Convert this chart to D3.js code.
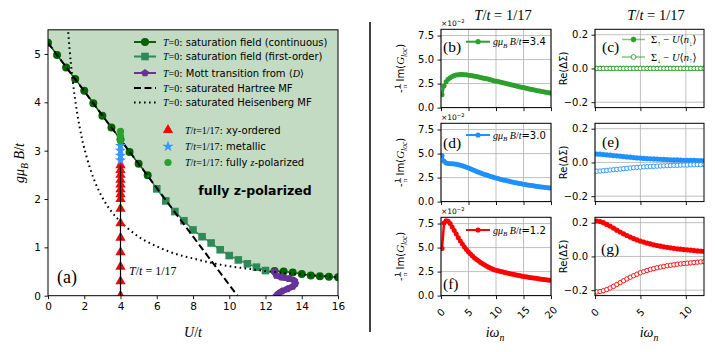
<!DOCTYPE html>
<html>
<head>
<meta charset="utf-8">
<script src="https://cdn.jsdelivr.net/npm/d3@7"></script>
<style>
  body { margin: 0; background: #fff; }
  svg { display: block; }
</style>
</head>
<body>
<svg id="chart" width="715" height="352"></svg>
<script>
const SANS = '"DejaVu Sans", sans-serif';
const SERIF = '"Liberation Serif", "DejaVu Serif", serif';

// ---- panel (a): phase diagram ----
const contU = [0, 0.5, 1, 1.5, 2, 2.5, 3, 3.5, 4, 4.5, 5, 5.5];
const contB = [5.23, 4.98, 4.72, 4.48, 4.24, 3.98, 3.72, 3.48, 3.23, 2.97, 2.73, 2.49];
const firstU = [6, 6.5, 7, 7.5, 8, 8.5, 9, 9.5, 10, 10.5, 11, 11.5, 12];
const firstB = [2.21, 1.96, 1.74, 1.55, 1.36, 1.22, 1.09, 0.95, 0.83, 0.74, 0.66, 0.59, 0.52];
const contHiU = [12.5, 13, 13.5, 14, 14.5, 15, 15.5, 16];
const contHiB = [0.51, 0.5, 0.48, 0.45, 0.42, 0.4, 0.39, 0.38];
const mottU = [12.5, 12.6, 12.9, 13.3, 13.6, 13.65, 13.5, 13.2, 12.9, 12.7, 12.6];
const mottB = [0.5, 0.42, 0.38, 0.35, 0.31, 0.25, 0.19, 0.14, 0.09, 0.04, 0.0];
const hartreeU = [0, 10.45];
const hartreeB = [5.23, 0];
const heisU = [1.1, 1.25, 1.5, 1.75, 2, 2.5, 3, 3.5, 4, 5, 6, 7, 8, 9, 10, 11, 12, 13, 14, 15, 16];
const heisB = [5.55, 4.85, 4.05, 3.48, 3.05, 2.44, 2.03, 1.74, 1.53, 1.22, 1.02, 0.87, 0.77, 0.68, 0.61, 0.56, 0.51, 0.47, 0.44, 0.41, 0.38];
const xyB = [0, 0.3, 0.6, 0.9, 1.2, 1.5, 1.8, 2.0, 2.1, 2.2, 2.3, 2.4, 2.5, 2.6, 2.7];
const metalB = [2.8, 2.9, 3.0, 3.1];
const polB = [3.2, 3.3, 3.4];
const tempU = 4;
const uTicks = [0, 2, 4, 6, 8, 10, 12, 14, 16];
const bTicks = [0, 1, 2, 3, 4, 5];

// ---- panels (b)-(g): Matsubara data ----
const wn = [0.185, 0.554, 0.924, 1.294, 1.663, 2.033, 2.402, 2.772, 3.142, 3.511,
  3.881, 4.25, 4.62, 4.99, 5.359, 5.729, 6.098, 6.468, 6.837, 7.207,
  7.577, 7.946, 8.316, 8.685, 9.055, 9.425, 9.794, 10.164, 10.533, 10.903,
  11.272, 11.642, 12.012, 12.381, 12.751, 13.12, 13.49, 13.859, 14.229, 14.599,
  14.968, 15.338, 15.707, 16.077, 16.446, 16.816, 17.185, 17.555, 17.925, 18.294,
  18.664, 19.033, 19.403, 19.772];
const gB34 = [1.35, 2.25, 2.7, 2.95, 3.12, 3.24, 3.33, 3.39, 3.42, 3.44,
  3.44, 3.43, 3.41, 3.38, 3.35, 3.31, 3.27, 3.23, 3.18, 3.14,
  3.09, 3.04, 2.99, 2.94, 2.89, 2.83, 2.78, 2.73, 2.68, 2.63,
  2.58, 2.53, 2.48, 2.43, 2.38, 2.33, 2.28, 2.23, 2.18, 2.13,
  2.08, 2.03, 1.99, 1.94, 1.89, 1.85, 1.8, 1.76, 1.72, 1.68,
  1.64, 1.6, 1.56, 1.52];
const gB30 = [4.8, 4.2, 4.02, 3.97, 3.95, 3.93, 3.91, 3.88, 3.84, 3.79,
  3.73, 3.66, 3.58, 3.5, 3.41, 3.32, 3.23, 3.14, 3.06, 2.98,
  2.9, 2.83, 2.76, 2.69, 2.62, 2.55, 2.49, 2.43, 2.37, 2.31,
  2.26, 2.21, 2.16, 2.11, 2.06, 2.02, 1.97, 1.93, 1.89, 1.85,
  1.81, 1.78, 1.74, 1.71, 1.67, 1.64, 1.61, 1.58, 1.55, 1.52,
  1.49, 1.46, 1.44, 1.41];
const gB12 = [4.9, 7.55, 7.8, 7.75, 7.5, 7.15, 6.78, 6.4, 6.03, 5.68,
  5.36, 5.06, 4.79, 4.54, 4.32, 4.11, 3.92, 3.75, 3.59, 3.44,
  3.31, 3.18, 3.06, 2.95, 2.85, 2.75, 2.67, 2.62, 2.56, 2.5,
  2.45, 2.4, 2.35, 2.3, 2.25, 2.21, 2.16, 2.12, 2.08, 2.04,
  2.0, 1.96, 1.93, 1.89, 1.86, 1.83, 1.8, 1.77, 1.74, 1.71,
  1.68, 1.65, 1.62, 1.6];

const wnS = wn.slice(0, 33);
const sigUp34 = [0, 0, 0, 0, 0, 0, 0, 0, 0, 0, 0, 0, 0, 0, 0, 0, 0, 0, 0, 0, 0, 0, 0, 0, 0, 0, 0, 0, 0, 0, 0, 0, 0];
const sigDn34 = [0, 0, 0, 0, 0, 0, 0, 0, 0, 0, 0, 0, 0, 0, 0, 0, 0, 0, 0, 0, 0, 0, 0, 0, 0, 0, 0, 0, 0, 0, 0, 0, 0];
const sigUp30 = [0.05, 0.049, 0.047, 0.045, 0.043, 0.041, 0.039, 0.037, 0.035, 0.033,
  0.031, 0.029, 0.027, 0.026, 0.024, 0.023, 0.022, 0.021, 0.02, 0.019,
  0.018, 0.017, 0.016, 0.015, 0.015, 0.014, 0.013, 0.013, 0.012, 0.012,
  0.011, 0.011, 0.01];
const sigDn30 = [-0.052, -0.051, -0.049, -0.047, -0.045, -0.043, -0.041, -0.039, -0.037, -0.035,
  -0.033, -0.031, -0.029, -0.028, -0.026, -0.025, -0.024, -0.023, -0.022, -0.021,
  -0.02, -0.019, -0.018, -0.017, -0.017, -0.016, -0.015, -0.015, -0.014, -0.014,
  -0.013, -0.013, -0.012];
const sigUp12 = [0.21, 0.207, 0.2, 0.19, 0.18, 0.168, 0.156, 0.145, 0.134, 0.124,
  0.115, 0.106, 0.098, 0.091, 0.085, 0.079, 0.074, 0.069, 0.065, 0.061,
  0.057, 0.054, 0.051, 0.048, 0.045, 0.043, 0.041, 0.039, 0.037, 0.035,
  0.033, 0.032, 0.03];
const sigDn12 = [-0.21, -0.208, -0.203, -0.196, -0.187, -0.177, -0.166, -0.155, -0.144, -0.133,
  -0.123, -0.114, -0.105, -0.097, -0.09, -0.083, -0.077, -0.072, -0.067, -0.063,
  -0.059, -0.055, -0.052, -0.049, -0.046, -0.044, -0.042, -0.04, -0.038, -0.036,
  -0.034, -0.032, -0.031];
const gTicksX = [0, 5, 10, 15, 20];
const gTicksY = [0, 2.5, 5, 7.5];
const sTicksX = [0, 5, 10];
const sTicksY = [-0.2, 0, 0.2];

const C = {
  dark: '#006400', sea: '#2e8b57', purple: '#663399', fill: '#c2dbc2',
  green: '#2ca02c', blue: '#1e90ff', red: '#ff0000', star: '#3399ff', grid: '#b0b0b0'
};

const svg = d3.select('#chart');
svg.append('rect').attr('width', 715).attr('height', 352).attr('fill', '#fff');

// rich text: parts are [string, code]; I italic serif, R roman serif, S sans, _ sub, ^ sup, B bold
function rich(parent, x, y, parts, size, anchor) {
  const t = parent.append('text').attr('x', x).attr('y', y)
    .attr('font-size', size).attr('text-anchor', anchor || 'start');
  let shift = 0;
  parts.forEach(([s, code]) => {
    const sp = t.append('tspan').text(s);
    const target = code.includes('_') ? 0.25 : code.includes('^') ? -0.4 : 0;
    sp.attr('dy', (target - shift) * size);
    shift = target;
    if (target !== 0) sp.attr('font-size', size * 0.7);
    if (code.includes('I')) sp.attr('font-family', SERIF).attr('font-style', 'italic');
    else if (code.includes('R')) sp.attr('font-family', SERIF);
    else sp.attr('font-family', SANS);
    if (code.includes('B')) sp.attr('font-weight', 'bold');
  });
  return t;
}

function pentagon(r) {
  const pts = d3.range(5).map(i => {
    const a = -Math.PI / 2 + i * 2 * Math.PI / 5;
    return [r * Math.cos(a), r * Math.sin(a)];
  });
  return 'M' + pts.join('L') + 'Z';
}

// ================= panel (a) =================
const xU = d3.scaleLinear().domain([0, 16]).range([48, 338]);
const yB = d3.scaleLinear().domain([0, 5.5]).range([295.7, 29.8]);

svg.append('clipPath').attr('id', 'clipA').append('rect')
  .attr('x', 48).attr('y', 29.8).attr('width', 290).attr('height', 265.9);
const gA = svg.append('g').attr('clip-path', 'url(#clipA)');

const boundary = [[0, 5.5]]
  .concat(contU.map((u, i) => [u, contB[i]]))
  .concat(firstU.map((u, i) => [u, firstB[i]]))
  .concat(contHiU.map((u, i) => [u, contHiB[i]]))
  .concat([[16, 5.5]]);
gA.append('path')
  .attr('d', d3.line().x(d => xU(d[0])).y(d => yB(d[1]))(boundary) + 'Z')
  .attr('fill', C.fill);

const lineUB = d3.line().x(d => xU(d[0])).y(d => yB(d[1]));
const zipUB = (us, bs) => us.map((u, i) => [u, bs[i]]);

// saturation field (continuous), low and high U parts
[zipUB(contU, contB), zipUB(contHiU, contHiB)].forEach(pts => {
  gA.append('path').attr('d', lineUB(pts)).attr('fill', 'none')
    .attr('stroke', C.dark).attr('stroke-width', 1.5);
  gA.selectAll(null).data(pts).join('circle')
    .attr('cx', d => xU(d[0])).attr('cy', d => yB(d[1])).attr('r', 4).attr('fill', C.dark);
});
// first-order
const firstPts = [[contU[contU.length - 1], contB[contB.length - 1]]].concat(zipUB(firstU, firstB));
gA.append('path').attr('d', lineUB(firstPts)).attr('fill', 'none')
  .attr('stroke', C.sea).attr('stroke-width', 1.5);
gA.selectAll(null).data(zipUB(firstU, firstB)).join('rect')
  .attr('x', d => xU(d[0]) - 3.8).attr('y', d => yB(d[1]) - 3.8)
  .attr('width', 7.6).attr('height', 7.6).attr('fill', C.sea);
// Mott transition
const mottPts = zipUB(mottU, mottB);
gA.append('path').attr('d', d3.line().curve(d3.curveCatmullRom)
    .x(d => xU(d[0])).y(d => yB(d[1]))(mottPts)).attr('fill', 'none')
  .attr('stroke', C.purple).attr('stroke-width', 6).attr('stroke-linejoin', 'round');
gA.selectAll(null).data(mottPts).join('path')
  .attr('transform', d => `translate(${xU(d[0])},${yB(d[1])})`)
  .attr('d', pentagon(4)).attr('fill', C.purple);

// Hartree and Heisenberg MF
gA.append('path').attr('d', lineUB(zipUB(hartreeU, hartreeB))).attr('fill', 'none')
  .attr('stroke', '#000').attr('stroke-width', 2).attr('stroke-dasharray', '7,3.5');
gA.append('path').attr('d', d3.line().curve(d3.curveCatmullRom)
    .x(d => xU(d[0])).y(d => yB(d[1]))(zipUB(heisU, heisB)))
  .attr('fill', 'none').attr('stroke', '#000').attr('stroke-width', 2)
  .attr('stroke-dasharray', '1.6,3.4');

// T/t = 1/17 cut
gA.selectAll(null).data(xyB).join('path')
  .attr('transform', d => `translate(${xU(tempU)},${yB(d)})`)
  .attr('d', d3.symbol(d3.symbolTriangle, 46)()).attr('fill', C.red);
gA.selectAll(null).data(metalB).join('path')
  .attr('transform', d => `translate(${xU(tempU)},${yB(d)})`)
  .attr('d', d3.symbol(d3.symbolStar, 40)()).attr('fill', C.star);
gA.selectAll(null).data(polB).join('circle')
  .attr('cx', xU(tempU)).attr('cy', d => yB(d)).attr('r', 3.6).attr('fill', C.green);
gA.append('line').attr('x1', xU(tempU)).attr('x2', xU(tempU))
  .attr('y1', yB(0)).attr('y2', yB(xyB[xyB.length - 1]))
  .attr('stroke', '#000').attr('stroke-width', 1.2);

// frame and axes
svg.append('rect').attr('x', 48).attr('y', 29.8).attr('width', 290).attr('height', 265.9)
  .attr('fill', 'none').attr('stroke', '#000').attr('stroke-width', 1);

function styleAxis(g, size) {
  g.select('.domain').remove();
  g.selectAll('.tick line').attr('stroke', '#000').attr('stroke-width', 0.9);
  g.selectAll('.tick text').attr('font-family', SANS).attr('font-size', size).attr('fill', '#000');
}
svg.append('g').attr('transform', 'translate(0,295.7)')
  .call(d3.axisBottom(xU).tickValues(uTicks).tickFormat(d3.format('d')).tickSize(3.5).tickPadding(3))
  .call(g => styleAxis(g, 10.5));
svg.append('g').attr('transform', 'translate(48,0)')
  .call(d3.axisLeft(yB).tickValues(bTicks).tickFormat(d3.format('d')).tickSize(3.5).tickPadding(3.5))
  .call(g => styleAxis(g, 10.5));

rich(svg, 193, 337, [['U', 'I'], ['/', 'R'], ['t', 'I']], 14, 'middle');
rich(svg.append('g').attr('transform', 'translate(24,163) rotate(-90)'), 0, 0,
  [['gμ', 'I'], ['B', 'I_'], [' B', 'I'], ['/', 'R'], ['t', 'I']], 14, 'middle');

rich(svg, 255, 195, [['fully z-polarized', 'SB']], 12.5, 'middle');
rich(svg, 57, 283, [['(a)', 'R']], 18, 'start');
rich(svg, 129, 275, [['T', 'I'], ['/', 'R'], ['t', 'I'], [' = 1/17', 'R']], 12, 'start');

// legend
const legLines = [
  { y: 42, color: C.dark, mk: 'circle', dash: null, label: ': saturation field (continuous)' },
  { y: 56.5, color: C.sea, mk: 'square', dash: null, label: ': saturation field (first-order)' },
  { y: 73, color: C.purple, mk: 'pentagon', dash: null, label: ': Mott transition from ', extra: true },
  { y: 88, color: '#000', mk: null, dash: '7,3.5', label: ': saturated Hartree MF' },
  { y: 102.5, color: '#000', mk: null, dash: '1.6,3.4', label: ': saturated Heisenberg MF' }
];
legLines.forEach(d => {
  svg.append('line').attr('x1', 134).attr('x2', 156).attr('y1', d.y).attr('y2', d.y)
    .attr('stroke', d.color).attr('stroke-width', 2).attr('stroke-dasharray', d.dash);
  if (d.mk === 'circle') svg.append('circle').attr('cx', 145).attr('cy', d.y).attr('r', 4).attr('fill', d.color);
  if (d.mk === 'square') svg.append('rect').attr('x', 141.2).attr('y', d.y - 3.8).attr('width', 7.6).attr('height', 7.6).attr('fill', d.color);
  if (d.mk === 'pentagon') svg.append('path').attr('transform', `translate(145,${d.y})`).attr('d', pentagon(4)).attr('fill', d.color);
  const parts = [['T', 'I'], ['=0', 'R'], [d.label, 'S']];
  if (d.extra) parts.push(['⟨', 'R'], ['D', 'I'], ['⟩', 'R']);
  rich(svg, 163, d.y + 3.5, parts, 10, 'start');
});
const legPts = [
  { y: 130, label: ': xy-ordered', sym: 'tri' },
  { y: 146.5, label: ': metallic', sym: 'star' },
  { y: 162.5, label: ': fully ', sym: 'circ', z: true }
];
legPts.forEach(d => {
  if (d.sym === 'tri') svg.append('path').attr('transform', `translate(168,${d.y})`).attr('d', d3.symbol(d3.symbolTriangle, 46)()).attr('fill', C.red);
  if (d.sym === 'star') svg.append('path').attr('transform', `translate(168,${d.y})`).attr('d', d3.symbol(d3.symbolStar, 40)()).attr('fill', C.star);
  if (d.sym === 'circ') svg.append('circle').attr('cx', 168).attr('cy', d.y).attr('r', 3.6).attr('fill', C.green);
  const parts = [['T', 'I'], ['/', 'R'], ['t', 'I'], ['=1/17', 'R'], [d.label, 'S']];
  if (d.z) parts.push(['z', 'I'], ['-polarized', 'S']);
  rich(svg, 185, d.y + 3.5, parts, 10, 'start');
});

// separator
svg.append('line').attr('x1', 370).attr('x2', 370).attr('y1', 22).attr('y2', 332)
  .attr('stroke', '#000').attr('stroke-width', 1.5);

// ================= panels (b)-(g) =================
const H = 78.3;
const tops = [29.3, 123.3, 217.3];
let clipId = 0;

function panel(x0, x1, top, xDom, yDom, xt, yt, showX) {
  const x = d3.scaleLinear().domain(xDom).range([x0, x1]);
  const y = d3.scaleLinear().domain(yDom).range([top + H, top]);
  const id = 'clipP' + (clipId++);
  svg.append('clipPath').attr('id', id).append('rect')
    .attr('x', x0).attr('y', top).attr('width', x1 - x0).attr('height', H);
  const grid = svg.append('g');
  grid.selectAll(null).data(xt).join('line')
    .attr('x1', d => x(d)).attr('x2', d => x(d)).attr('y1', top).attr('y2', top + H)
    .attr('stroke', C.grid).attr('stroke-width', 0.8);
  grid.selectAll(null).data(yt).join('line')
    .attr('x1', x0).attr('x2', x1).attr('y1', d => y(d)).attr('y2', d => y(d))
    .attr('stroke', C.grid).attr('stroke-width', 0.8);
  const g = svg.append('g').attr('clip-path', `url(#${id})`);
  svg.append('rect').attr('x', x0).attr('y', top).attr('width', x1 - x0).attr('height', H)
    .attr('fill', 'none').attr('stroke', '#000').attr('stroke-width', 1);
  svg.append('g').attr('transform', `translate(${x0},0)`)
    .call(d3.axisLeft(y).tickValues(yt).tickFormat(d3.format('.1f')).tickSize(3.5).tickPadding(3.5))
    .call(a => styleAxis(a, 10));
  svg.append('g').attr('transform', `translate(0,${top + H})`)
    .call(d3.axisBottom(x).tickValues(xt).tickSize(3.5).tickFormat(''))
    .call(a => styleAxis(a, 10));
  if (showX) {
    svg.append('g').selectAll(null).data(xt).join('text')
      .attr('transform', d => `translate(${x(d)},${top + H + 17}) rotate(-45)`)
      .attr('text-anchor', 'middle').attr('dy', '0.35em')
      .attr('font-family', SANS).attr('font-size', 10).text(d => d);
  }
  return { x, y, g };
}

function gPanel(top, vals, color, label, tag, tagY, legY, showX) {
  const p = panel(441, 551, top, [0, 20], [0, 8.15], gTicksX, gTicksY, showX);
  const pts = wn.map((w, i) => [w, vals[i]]);
  p.g.append('path').attr('d', d3.line().x(d => p.x(d[0])).y(d => p.y(d[1]))(pts))
    .attr('fill', 'none').attr('stroke', color).attr('stroke-width', 2.5);
  p.g.selectAll(null).data(pts).join('circle')
    .attr('cx', d => p.x(d[0])).attr('cy', d => p.y(d[1])).attr('r', 2.5).attr('fill', color);
  svg.append('line').attr('x1', 466).attr('x2', 490).attr('y1', legY).attr('y2', legY)
    .attr('stroke', color).attr('stroke-width', 2);
  svg.append('circle').attr('cx', 478).attr('cy', legY).attr('r', 2.6).attr('fill', color);
  rich(svg, 493, legY + 3.5, [['gμ', 'I'], ['B', 'I_'], [' B', 'I'], ['/', 'R'], ['t', 'I'], ['=' + label, 'S']], 10, 'start');
  rich(svg, 443, tagY, [[tag, 'R']], 15.5, 'start');
  rich(svg, 441, top - 3, [['×10', 'S'], ['−2', 'S^']], 7.5, 'start');
  // y label
  const gl = svg.append('g').attr('transform', `translate(404,${top + H / 2}) rotate(-90)`);
  const inner = gl.append('g');
  let cx = 0;
  const put = (s, fam, style, size, dy) => {
    const t = inner.append('text').attr('x', cx).attr('y', dy).attr('font-family', fam)
      .attr('font-style', style).attr('font-size', size).text(s);
    cx += t.node().getComputedTextLength();
  };
  put('-', SANS, 'normal', 10, 0);
  inner.append('text').attr('x', cx + 3).attr('y', -4.5).attr('text-anchor', 'middle')
    .attr('font-family', SANS).attr('font-size', 7).text('1');
  inner.append('line').attr('x1', cx + 0.5).attr('x2', cx + 5.5).attr('y1', -3.3).attr('y2', -3.3)
    .attr('stroke', '#000').attr('stroke-width', 0.6);
  inner.append('text').attr('x', cx + 3).attr('y', 3).attr('text-anchor', 'middle')
    .attr('font-family', SERIF).attr('font-size', 7).text('π');
  cx += 8;
  put('Im(', SANS, 'normal', 10, 0);
  put('G', SERIF, 'italic', 11, 0);
  put('loc', SERIF, 'italic', 7.5, 2.5);
  put(')', SANS, 'normal', 10, 0);
  inner.attr('transform', `translate(${-cx / 2},0)`);
}

function sPanel(top, up, dn, color, tag, tagX, tagY, showX, legend) {
  const p = panel(595, 704, top, [0, 12], [-0.232, 0.232], sTicksX, sTicksY, showX);
  const line = d3.line().x(d => p.x(d[0])).y(d => p.y(d[1]));
  const upPts = wnS.map((w, i) => [w, up[i]]);
  const dnPts = wnS.map((w, i) => [w, dn[i]]);
  p.g.append('path').attr('d', line(upPts)).attr('fill', 'none').attr('stroke', color).attr('stroke-width', 1.2);
  p.g.selectAll(null).data(upPts).join('circle')
    .attr('cx', d => p.x(d[0])).attr('cy', d => p.y(d[1])).attr('r', 2.6).attr('fill', color);
  p.g.append('path').attr('d', line(dnPts)).attr('fill', 'none').attr('stroke', color).attr('stroke-width', 1.2);
  p.g.selectAll(null).data(dnPts).join('circle')
    .attr('cx', d => p.x(d[0])).attr('cy', d => p.y(d[1])).attr('r', 2.2)
    .attr('fill', '#fff').attr('stroke', color).attr('stroke-width', 0.9);
  rich(svg, tagX, tagY, [[tag, 'R']], 15.5, 'start');
  rich(svg.append('g').attr('transform', `translate(567,${top + H / 2}) rotate(-90)`), 0, 0,
    [['Re(ΔΣ)', 'S']], 10, 'middle');
  if (legend) {
    [[39.5, true, '↑', '↓'], [57, false, '↓', '↑']].forEach(([ly, filled, s1, s2]) => {
      svg.append('line').attr('x1', 622).attr('x2', 645).attr('y1', ly).attr('y2', ly)
        .attr('stroke', color).attr('stroke-opacity', 0.6).attr('stroke-width', 1.5);
      svg.append('circle').attr('cx', 633.5).attr('cy', ly).attr('r', 2.4)
        .attr('fill', filled ? color : '#fff').attr('stroke', color).attr('stroke-width', 0.9);
      rich(svg, 651, ly + 3.5, [['Σ', 'R'], [s1, 'R_'], [' − ', 'R'], ['U', 'I'], ['⟨', 'R'], ['n', 'I'], [s2, 'R_'], ['⟩', 'R']], 10.5, 'start');
    });
  }
}

gPanel(tops[0], gB34, C.green, '3.4', '(b)', 52, 41.7, false);
gPanel(tops[1], gB30, C.blue, '3.0', '(d)', 148, 135, false);
gPanel(tops[2], gB12, C.red, '1.2', '(f)', 289, 230, true);
sPanel(tops[0], sigUp34, sigDn34, C.green, '(c)', 602, 52, false, true);
sPanel(tops[1], sigUp30, sigDn30, C.blue, '(e)', 602, 147, false, false);
sPanel(tops[2], sigUp12, sigDn12, C.red, '(g)', 601, 254, true, false);

// titles and x labels
rich(svg, 503, 20, [['T', 'I'], ['/', 'R'], ['t', 'I'], [' = 1/17', 'R']], 14.5, 'middle');
rich(svg, 656, 20, [['T', 'I'], ['/', 'R'], ['t', 'I'], [' = 1/17', 'R']], 14.5, 'middle');
rich(svg, 495, 337, [['iω', 'I'], ['n', 'I_']], 14, 'middle');
rich(svg, 649, 337, [['iω', 'I'], ['n', 'I_']], 14, 'middle');
</script>
</body>
</html>
